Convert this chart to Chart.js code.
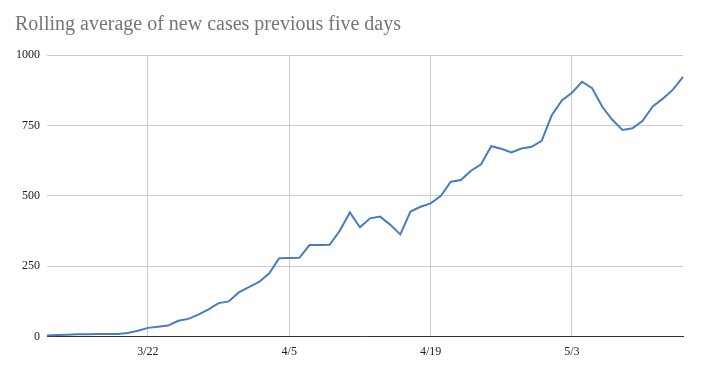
<!DOCTYPE html>
<html>
<head>
<meta charset="utf-8">
<script src="https://cdn.jsdelivr.net/npm/chart.js@4"></script>
<style>
  body { margin: 0; background: #fff; }
</style>
</head>
<body>
<canvas id="chart" width="701" height="372"></canvas>
<script>
// daily dates 3/12 .. 5/14
const dates = [
  "3/12","3/13","3/14","3/15","3/16","3/17","3/18","3/19","3/20","3/21",
  "3/22","3/23","3/24","3/25","3/26","3/27","3/28","3/29","3/30","3/31",
  "4/1","4/2","4/3","4/4","4/5","4/6","4/7","4/8","4/9","4/10",
  "4/11","4/12","4/13","4/14","4/15","4/16","4/17","4/18","4/19","4/20",
  "4/21","4/22","4/23","4/24","4/25","4/26","4/27","4/28","4/29","4/30",
  "5/1","5/2","5/3","5/4","5/5","5/6","5/7","5/8","5/9","5/10",
  "5/11","5/12","5/13","5/14"
];

const rollingAvg = [
  4, 6, 7, 8, 8, 9, 9, 9, 13, 21,
  31, 35, 39, 56, 63, 78, 97, 119, 125, 157,
  176, 194, 224, 278, 279, 280, 325, 325, 326, 376,
  441, 388, 420, 426, 397, 363, 444, 461, 473, 499,
  550, 556, 589, 612, 676, 667, 654, 668, 674, 695,
  786, 839, 866, 905, 882, 816, 770, 734, 740, 766,
  817, 845, 877, 922
];

const shownDates = ["3/22", "4/5", "4/19", "5/3"];
const yTicks = [0, 250, 500, 750, 1000];

const serif = "'Liberation Serif', 'Times New Roman', serif";

new Chart(document.getElementById("chart"), {
  type: "line",
  data: {
    labels: dates,
    datasets: [{
      data: rollingAvg,
      borderColor: "#4a7bbd",
      borderWidth: 2,
      pointRadius: 0,
      tension: 0,
      fill: false
    }]
  },
  options: {
    responsive: false,
    animation: false,
    layout: { padding: { left: 15, right: 18, bottom: 5 } },
    plugins: {
      legend: { display: false },
      tooltip: { enabled: false },
      title: {
        display: true,
        text: "Rolling average of new cases previous five days",
        align: "start",
        color: "#757575",
        font: { family: serif, size: 20, weight: "normal" },
        padding: { top: 13, bottom: 18 }
      }
    },
    scales: {
      x: {
        offset: false,
        grid: { color: "#cccccc", drawTicks: false },
        border: { color: "#333333", width: 1 },
        ticks: {
          autoSkip: false,
          maxRotation: 0,
          padding: 8,
          color: "#222",
          font: { family: serif, size: 12 },
          callback: function (val) {
            const lbl = this.getLabelForValue(val);
            return shownDates.includes(lbl) ? lbl : null;
          }
        }
      },
      y: {
        min: 0,
        max: 1000,
        afterBuildTicks: axis => { axis.ticks = yTicks.map(v => ({ value: v })); },
        afterFit: axis => { axis.width = 32; },
        grid: { color: "#cccccc", drawTicks: false },
        border: { display: false },
        ticks: {
          padding: 7,
          color: "#222",
          font: { family: serif, size: 12 },
          callback: v => String(v)
        }
      }
    }
  }
});
</script>
</body>
</html>
